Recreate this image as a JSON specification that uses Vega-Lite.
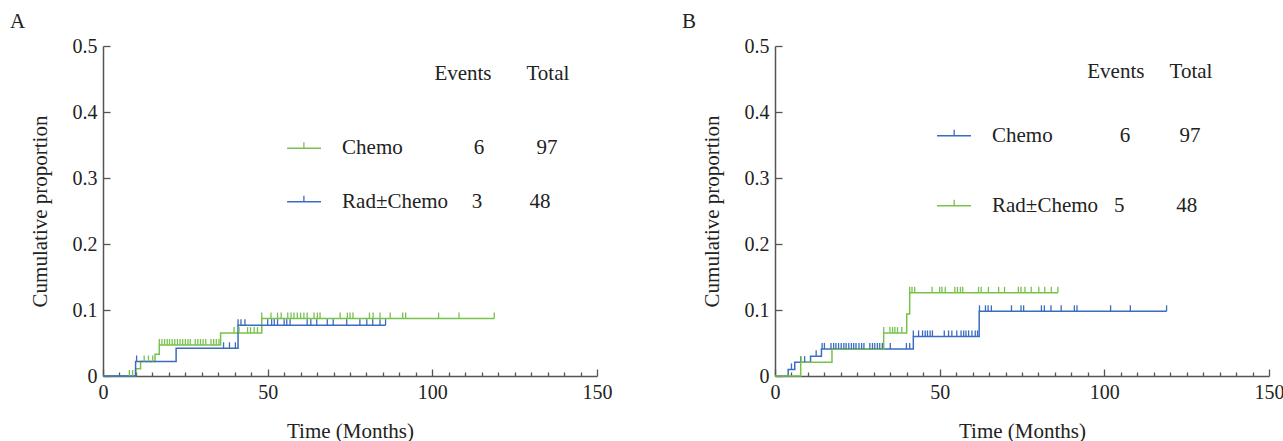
{
  "$schema": "https://vega.github.io/schema/vega-lite/v6.json",
  "background": "white",
  "padding": {"left": 10, "top": 11, "right": 5, "bottom": 0},
  "spacing": 70,
  "datasets": {
    "curves": [
      {"panel": "A", "group": "Chemo", "t": 0, "p": 0},
      {"panel": "A", "group": "Chemo", "t": 9.9, "p": 0.011},
      {"panel": "A", "group": "Chemo", "t": 11.4, "p": 0.022},
      {"panel": "A", "group": "Chemo", "t": 15.8, "p": 0.033},
      {"panel": "A", "group": "Chemo", "t": 17.1, "p": 0.047},
      {"panel": "A", "group": "Chemo", "t": 35.7, "p": 0.065},
      {"panel": "A", "group": "Chemo", "t": 48.2, "p": 0.087},
      {"panel": "A", "group": "Chemo", "t": 118.8, "p": 0.087},
      {"panel": "A", "group": "Rad±Chemo", "t": 0, "p": 0},
      {"panel": "A", "group": "Rad±Chemo", "t": 9.9, "p": 0.022},
      {"panel": "A", "group": "Rad±Chemo", "t": 22.2, "p": 0.042},
      {"panel": "A", "group": "Rad±Chemo", "t": 41.0, "p": 0.077},
      {"panel": "A", "group": "Rad±Chemo", "t": 85.8, "p": 0.077},
      {"panel": "B", "group": "Chemo", "t": 0, "p": 0},
      {"panel": "B", "group": "Chemo", "t": 4.0, "p": 0.010},
      {"panel": "B", "group": "Chemo", "t": 6.0, "p": 0.021},
      {"panel": "B", "group": "Chemo", "t": 10.8, "p": 0.030},
      {"panel": "B", "group": "Chemo", "t": 14.1, "p": 0.041},
      {"panel": "B", "group": "Chemo", "t": 42.0, "p": 0.060},
      {"panel": "B", "group": "Chemo", "t": 62.0, "p": 0.098},
      {"panel": "B", "group": "Chemo", "t": 118.9, "p": 0.098},
      {"panel": "B", "group": "Rad±Chemo", "t": 0, "p": 0},
      {"panel": "B", "group": "Rad±Chemo", "t": 7.8, "p": 0.021},
      {"panel": "B", "group": "Rad±Chemo", "t": 17.3, "p": 0.041},
      {"panel": "B", "group": "Rad±Chemo", "t": 33.0, "p": 0.065},
      {"panel": "B", "group": "Rad±Chemo", "t": 40.0, "p": 0.094},
      {"panel": "B", "group": "Rad±Chemo", "t": 40.9, "p": 0.126},
      {"panel": "B", "group": "Rad±Chemo", "t": 85.9, "p": 0.126}
    ],
    "censors": [
      {"panel": "A", "group": "Chemo", "t": 8.0, "p": 0},
      {"panel": "A", "group": "Chemo", "t": 9.0, "p": 0},
      {"panel": "A", "group": "Chemo", "t": 12.5, "p": 0.022},
      {"panel": "A", "group": "Chemo", "t": 13.8, "p": 0.022},
      {"panel": "A", "group": "Chemo", "t": 15.1, "p": 0.022},
      {"panel": "A", "group": "Chemo", "t": 17.1, "p": 0.047},
      {"panel": "A", "group": "Chemo", "t": 17.9, "p": 0.047},
      {"panel": "A", "group": "Chemo", "t": 18.7, "p": 0.047},
      {"panel": "A", "group": "Chemo", "t": 19.5, "p": 0.047},
      {"panel": "A", "group": "Chemo", "t": 20.2, "p": 0.047},
      {"panel": "A", "group": "Chemo", "t": 21.0, "p": 0.047},
      {"panel": "A", "group": "Chemo", "t": 21.8, "p": 0.047},
      {"panel": "A", "group": "Chemo", "t": 22.6, "p": 0.047},
      {"panel": "A", "group": "Chemo", "t": 23.4, "p": 0.047},
      {"panel": "A", "group": "Chemo", "t": 24.2, "p": 0.047},
      {"panel": "A", "group": "Chemo", "t": 25.0, "p": 0.047},
      {"panel": "A", "group": "Chemo", "t": 25.8, "p": 0.047},
      {"panel": "A", "group": "Chemo", "t": 26.5, "p": 0.047},
      {"panel": "A", "group": "Chemo", "t": 28.0, "p": 0.047},
      {"panel": "A", "group": "Chemo", "t": 28.8, "p": 0.047},
      {"panel": "A", "group": "Chemo", "t": 29.6, "p": 0.047},
      {"panel": "A", "group": "Chemo", "t": 30.4, "p": 0.047},
      {"panel": "A", "group": "Chemo", "t": 31.2, "p": 0.047},
      {"panel": "A", "group": "Chemo", "t": 32.8, "p": 0.047},
      {"panel": "A", "group": "Chemo", "t": 33.6, "p": 0.047},
      {"panel": "A", "group": "Chemo", "t": 34.4, "p": 0.047},
      {"panel": "A", "group": "Chemo", "t": 35.2, "p": 0.047},
      {"panel": "A", "group": "Chemo", "t": 39.8, "p": 0.065},
      {"panel": "A", "group": "Chemo", "t": 41.3, "p": 0.065},
      {"panel": "A", "group": "Chemo", "t": 43.9, "p": 0.065},
      {"panel": "A", "group": "Chemo", "t": 44.8, "p": 0.065},
      {"panel": "A", "group": "Chemo", "t": 45.9, "p": 0.065},
      {"panel": "A", "group": "Chemo", "t": 46.9, "p": 0.065},
      {"panel": "A", "group": "Chemo", "t": 48.2, "p": 0.087},
      {"panel": "A", "group": "Chemo", "t": 51.0, "p": 0.087},
      {"panel": "A", "group": "Chemo", "t": 53.0, "p": 0.087},
      {"panel": "A", "group": "Chemo", "t": 54.1, "p": 0.087},
      {"panel": "A", "group": "Chemo", "t": 56.1, "p": 0.087},
      {"panel": "A", "group": "Chemo", "t": 57.1, "p": 0.087},
      {"panel": "A", "group": "Chemo", "t": 58.0, "p": 0.087},
      {"panel": "A", "group": "Chemo", "t": 59.0, "p": 0.087},
      {"panel": "A", "group": "Chemo", "t": 60.0, "p": 0.087},
      {"panel": "A", "group": "Chemo", "t": 61.0, "p": 0.087},
      {"panel": "A", "group": "Chemo", "t": 62.0, "p": 0.087},
      {"panel": "A", "group": "Chemo", "t": 64.1, "p": 0.087},
      {"panel": "A", "group": "Chemo", "t": 65.1, "p": 0.087},
      {"panel": "A", "group": "Chemo", "t": 65.9, "p": 0.087},
      {"panel": "A", "group": "Chemo", "t": 72.0, "p": 0.087},
      {"panel": "A", "group": "Chemo", "t": 74.2, "p": 0.087},
      {"panel": "A", "group": "Chemo", "t": 75.0, "p": 0.087},
      {"panel": "A", "group": "Chemo", "t": 75.9, "p": 0.087},
      {"panel": "A", "group": "Chemo", "t": 80.9, "p": 0.087},
      {"panel": "A", "group": "Chemo", "t": 82.0, "p": 0.087},
      {"panel": "A", "group": "Chemo", "t": 84.1, "p": 0.087},
      {"panel": "A", "group": "Chemo", "t": 87.2, "p": 0.087},
      {"panel": "A", "group": "Chemo", "t": 91.0, "p": 0.087},
      {"panel": "A", "group": "Chemo", "t": 91.9, "p": 0.087},
      {"panel": "A", "group": "Chemo", "t": 101.9, "p": 0.087},
      {"panel": "A", "group": "Chemo", "t": 108.1, "p": 0.087},
      {"panel": "A", "group": "Chemo", "t": 118.8, "p": 0.087},
      {"panel": "A", "group": "Rad±Chemo", "t": 10.2, "p": 0.022},
      {"panel": "A", "group": "Rad±Chemo", "t": 36.6, "p": 0.042},
      {"panel": "A", "group": "Rad±Chemo", "t": 38.4, "p": 0.042},
      {"panel": "A", "group": "Rad±Chemo", "t": 40.2, "p": 0.042},
      {"panel": "A", "group": "Rad±Chemo", "t": 41.0, "p": 0.077},
      {"panel": "A", "group": "Rad±Chemo", "t": 41.9, "p": 0.077},
      {"panel": "A", "group": "Rad±Chemo", "t": 43.1, "p": 0.077},
      {"panel": "A", "group": "Rad±Chemo", "t": 50.0, "p": 0.077},
      {"panel": "A", "group": "Rad±Chemo", "t": 51.2, "p": 0.077},
      {"panel": "A", "group": "Rad±Chemo", "t": 52.0, "p": 0.077},
      {"panel": "A", "group": "Rad±Chemo", "t": 53.0, "p": 0.077},
      {"panel": "A", "group": "Rad±Chemo", "t": 55.0, "p": 0.077},
      {"panel": "A", "group": "Rad±Chemo", "t": 55.8, "p": 0.077},
      {"panel": "A", "group": "Rad±Chemo", "t": 56.8, "p": 0.077},
      {"panel": "A", "group": "Rad±Chemo", "t": 62.0, "p": 0.077},
      {"panel": "A", "group": "Rad±Chemo", "t": 63.1, "p": 0.077},
      {"panel": "A", "group": "Rad±Chemo", "t": 64.9, "p": 0.077},
      {"panel": "A", "group": "Rad±Chemo", "t": 68.1, "p": 0.077},
      {"panel": "A", "group": "Rad±Chemo", "t": 69.9, "p": 0.077},
      {"panel": "A", "group": "Rad±Chemo", "t": 74.0, "p": 0.077},
      {"panel": "A", "group": "Rad±Chemo", "t": 78.0, "p": 0.077},
      {"panel": "A", "group": "Rad±Chemo", "t": 80.1, "p": 0.077},
      {"panel": "A", "group": "Rad±Chemo", "t": 81.9, "p": 0.077},
      {"panel": "A", "group": "Rad±Chemo", "t": 84.1, "p": 0.077},
      {"panel": "A", "group": "Rad±Chemo", "t": 85.8, "p": 0.077},
      {"panel": "B", "group": "Chemo", "t": 5.0, "p": 0.010},
      {"panel": "B", "group": "Chemo", "t": 7.8, "p": 0.021},
      {"panel": "B", "group": "Chemo", "t": 9.0, "p": 0.021},
      {"panel": "B", "group": "Chemo", "t": 12.5, "p": 0.030},
      {"panel": "B", "group": "Chemo", "t": 14.3, "p": 0.041},
      {"panel": "B", "group": "Chemo", "t": 15.0, "p": 0.041},
      {"panel": "B", "group": "Chemo", "t": 17.0, "p": 0.041},
      {"panel": "B", "group": "Chemo", "t": 17.8, "p": 0.041},
      {"panel": "B", "group": "Chemo", "t": 18.5, "p": 0.041},
      {"panel": "B", "group": "Chemo", "t": 19.3, "p": 0.041},
      {"panel": "B", "group": "Chemo", "t": 20.1, "p": 0.041},
      {"panel": "B", "group": "Chemo", "t": 20.9, "p": 0.041},
      {"panel": "B", "group": "Chemo", "t": 21.6, "p": 0.041},
      {"panel": "B", "group": "Chemo", "t": 22.4, "p": 0.041},
      {"panel": "B", "group": "Chemo", "t": 23.2, "p": 0.041},
      {"panel": "B", "group": "Chemo", "t": 23.9, "p": 0.041},
      {"panel": "B", "group": "Chemo", "t": 24.6, "p": 0.041},
      {"panel": "B", "group": "Chemo", "t": 25.5, "p": 0.041},
      {"panel": "B", "group": "Chemo", "t": 26.3, "p": 0.041},
      {"panel": "B", "group": "Chemo", "t": 27.0, "p": 0.041},
      {"panel": "B", "group": "Chemo", "t": 28.8, "p": 0.041},
      {"panel": "B", "group": "Chemo", "t": 29.6, "p": 0.041},
      {"panel": "B", "group": "Chemo", "t": 30.3, "p": 0.041},
      {"panel": "B", "group": "Chemo", "t": 31.1, "p": 0.041},
      {"panel": "B", "group": "Chemo", "t": 31.8, "p": 0.041},
      {"panel": "B", "group": "Chemo", "t": 32.6, "p": 0.041},
      {"panel": "B", "group": "Chemo", "t": 35.0, "p": 0.041},
      {"panel": "B", "group": "Chemo", "t": 39.9, "p": 0.041},
      {"panel": "B", "group": "Chemo", "t": 40.9, "p": 0.041},
      {"panel": "B", "group": "Chemo", "t": 42.0, "p": 0.060},
      {"panel": "B", "group": "Chemo", "t": 43.6, "p": 0.060},
      {"panel": "B", "group": "Chemo", "t": 44.8, "p": 0.060},
      {"panel": "B", "group": "Chemo", "t": 45.6, "p": 0.060},
      {"panel": "B", "group": "Chemo", "t": 46.3, "p": 0.060},
      {"panel": "B", "group": "Chemo", "t": 47.1, "p": 0.060},
      {"panel": "B", "group": "Chemo", "t": 47.8, "p": 0.060},
      {"panel": "B", "group": "Chemo", "t": 51.4, "p": 0.060},
      {"panel": "B", "group": "Chemo", "t": 52.7, "p": 0.060},
      {"panel": "B", "group": "Chemo", "t": 53.7, "p": 0.060},
      {"panel": "B", "group": "Chemo", "t": 55.2, "p": 0.060},
      {"panel": "B", "group": "Chemo", "t": 56.5, "p": 0.060},
      {"panel": "B", "group": "Chemo", "t": 57.3, "p": 0.060},
      {"panel": "B", "group": "Chemo", "t": 58.0, "p": 0.060},
      {"panel": "B", "group": "Chemo", "t": 58.8, "p": 0.060},
      {"panel": "B", "group": "Chemo", "t": 59.8, "p": 0.060},
      {"panel": "B", "group": "Chemo", "t": 60.8, "p": 0.060},
      {"panel": "B", "group": "Chemo", "t": 61.5, "p": 0.060},
      {"panel": "B", "group": "Chemo", "t": 62.1, "p": 0.098},
      {"panel": "B", "group": "Chemo", "t": 63.9, "p": 0.098},
      {"panel": "B", "group": "Chemo", "t": 64.7, "p": 0.098},
      {"panel": "B", "group": "Chemo", "t": 65.7, "p": 0.098},
      {"panel": "B", "group": "Chemo", "t": 71.8, "p": 0.098},
      {"panel": "B", "group": "Chemo", "t": 74.7, "p": 0.098},
      {"panel": "B", "group": "Chemo", "t": 75.5, "p": 0.098},
      {"panel": "B", "group": "Chemo", "t": 80.9, "p": 0.098},
      {"panel": "B", "group": "Chemo", "t": 81.8, "p": 0.098},
      {"panel": "B", "group": "Chemo", "t": 83.8, "p": 0.098},
      {"panel": "B", "group": "Chemo", "t": 86.9, "p": 0.098},
      {"panel": "B", "group": "Chemo", "t": 90.9, "p": 0.098},
      {"panel": "B", "group": "Chemo", "t": 91.7, "p": 0.098},
      {"panel": "B", "group": "Chemo", "t": 101.9, "p": 0.098},
      {"panel": "B", "group": "Chemo", "t": 107.9, "p": 0.098},
      {"panel": "B", "group": "Chemo", "t": 118.9, "p": 0.098},
      {"panel": "B", "group": "Rad±Chemo", "t": 7.9, "p": 0.021},
      {"panel": "B", "group": "Rad±Chemo", "t": 33.0, "p": 0.065},
      {"panel": "B", "group": "Rad±Chemo", "t": 34.9, "p": 0.065},
      {"panel": "B", "group": "Rad±Chemo", "t": 35.7, "p": 0.065},
      {"panel": "B", "group": "Rad±Chemo", "t": 36.4, "p": 0.065},
      {"panel": "B", "group": "Rad±Chemo", "t": 37.2, "p": 0.065},
      {"panel": "B", "group": "Rad±Chemo", "t": 38.5, "p": 0.065},
      {"panel": "B", "group": "Rad±Chemo", "t": 40.9, "p": 0.126},
      {"panel": "B", "group": "Rad±Chemo", "t": 41.6, "p": 0.126},
      {"panel": "B", "group": "Rad±Chemo", "t": 42.4, "p": 0.126},
      {"panel": "B", "group": "Rad±Chemo", "t": 47.7, "p": 0.126},
      {"panel": "B", "group": "Rad±Chemo", "t": 50.0, "p": 0.126},
      {"panel": "B", "group": "Rad±Chemo", "t": 50.7, "p": 0.126},
      {"panel": "B", "group": "Rad±Chemo", "t": 51.7, "p": 0.126},
      {"panel": "B", "group": "Rad±Chemo", "t": 54.6, "p": 0.126},
      {"panel": "B", "group": "Rad±Chemo", "t": 55.4, "p": 0.126},
      {"panel": "B", "group": "Rad±Chemo", "t": 56.3, "p": 0.126},
      {"panel": "B", "group": "Rad±Chemo", "t": 57.0, "p": 0.126},
      {"panel": "B", "group": "Rad±Chemo", "t": 61.8, "p": 0.126},
      {"panel": "B", "group": "Rad±Chemo", "t": 62.6, "p": 0.126},
      {"panel": "B", "group": "Rad±Chemo", "t": 64.8, "p": 0.126},
      {"panel": "B", "group": "Rad±Chemo", "t": 67.9, "p": 0.126},
      {"panel": "B", "group": "Rad±Chemo", "t": 69.7, "p": 0.126},
      {"panel": "B", "group": "Rad±Chemo", "t": 73.9, "p": 0.126},
      {"panel": "B", "group": "Rad±Chemo", "t": 74.7, "p": 0.126},
      {"panel": "B", "group": "Rad±Chemo", "t": 75.9, "p": 0.126},
      {"panel": "B", "group": "Rad±Chemo", "t": 77.8, "p": 0.126},
      {"panel": "B", "group": "Rad±Chemo", "t": 80.1, "p": 0.126},
      {"panel": "B", "group": "Rad±Chemo", "t": 81.9, "p": 0.126},
      {"panel": "B", "group": "Rad±Chemo", "t": 83.9, "p": 0.126},
      {"panel": "B", "group": "Rad±Chemo", "t": 85.9, "p": 0.126}
    ],
    "keys": [
      {"panel": "A", "group": "Chemo", "t1": 55.9, "t2": 66.2, "tm": 61.0, "p": 0.345, "tl": 72.6, "events": "6", "te": 114.2, "total": "97", "tt": 134.8},
      {"panel": "A", "group": "Rad±Chemo", "t1": 55.9, "t2": 66.2, "tm": 61.0, "p": 0.264, "tl": 72.6, "events": "3", "te": 113.6, "total": "48", "tt": 132.7},
      {"panel": "B", "group": "Chemo", "t1": 49.2, "t2": 59.5, "tm": 54.4, "p": 0.364, "tl": 65.9, "events": "6", "te": 106.3, "total": "97", "tt": 126.0},
      {"panel": "B", "group": "Rad±Chemo", "t1": 49.2, "t2": 59.5, "tm": 54.4, "p": 0.258, "tl": 65.9, "events": "5", "te": 104.5, "total": "48", "tt": 125.0}
    ],
    "headers": [
      {"panel": "A", "text": "Events", "t": 109.3, "p": 0.458},
      {"panel": "A", "text": "Total", "t": 135.1, "p": 0.458},
      {"panel": "B", "text": "Events", "t": 103.5, "p": 0.461},
      {"panel": "B", "text": "Total", "t": 126.3, "p": 0.461}
    ]
  },
  "hconcat": [
    {
      "width": 494,
      "height": 330,
      "title": {"text": "A", "dx": -19},
      "resolve": {"axis": {"x": "independent"}},
      "layer": [
        {
          "data": {"name": "curves"},
          "transform": [{"filter": "datum.panel === 'A'"}],
          "mark": {"type": "line", "interpolate": "step-after", "strokeWidth": 1.5},
          "encoding": {
            "x": {"field": "t", "type": "quantitative", "scale": {"domain": [0, 150], "nice": false},
              "axis": {"orient": "bottom", "title": "Time (Months)", "values": [0, 50, 100, 150], "tickSize": -7, "labelOverlap": false}},
            "y": {"field": "p", "type": "quantitative", "scale": {"domain": [0, 0.5], "nice": false},
              "axis": {"title": "Cumulative proportion", "values": [0, 0.1, 0.2, 0.3, 0.4, 0.5], "format": "~g", "tickSize": -7}},
            "color": {"field": "group", "type": "nominal", "scale": {"domain": ["Chemo", "Rad±Chemo"], "range": ["#78c24a", "#3a6cc0"]}, "legend": null}
          }
        },
        {
          "data": {"name": "censors"},
          "transform": [{"filter": "datum.panel === 'A'"}],
          "mark": {"type": "point", "shape": "M0,0L0,-2", "size": 36, "filled": false, "strokeWidth": 1.3, "opacity": 1},
          "encoding": {
            "x": {"field": "t", "type": "quantitative",
              "axis": {"orient": "bottom", "title": null, "labels": false, "domain": false, "tickSize": -4,
                "values": [5,10,15,20,25,30,35,40,45,55,60,65,70,75,80,85,90,95,105,110,115,120,125,130,135,140,145]}},
            "y": {"field": "p", "type": "quantitative"},
            "color": {"field": "group", "type": "nominal"}
          }
        },
        {
          "data": {"name": "keys"},
          "transform": [{"filter": "datum.panel === 'A'"}],
          "mark": {"type": "rule", "strokeWidth": 1.5},
          "encoding": {
            "x": {"field": "t1", "type": "quantitative", "axis": null},
            "x2": {"field": "t2"},
            "y": {"field": "p", "type": "quantitative"},
            "color": {"field": "group", "type": "nominal"}
          }
        },
        {
          "data": {"name": "keys"},
          "transform": [{"filter": "datum.panel === 'A'"}],
          "mark": {"type": "point", "shape": "M0,0L0,-2", "size": 36, "filled": false, "strokeWidth": 1.3, "opacity": 1},
          "encoding": {
            "x": {"field": "tm", "type": "quantitative", "axis": null},
            "y": {"field": "p", "type": "quantitative"},
            "color": {"field": "group", "type": "nominal"}
          }
        },
        {
          "data": {"name": "keys"},
          "transform": [{"filter": "datum.panel === 'A'"}],
          "mark": {"type": "text", "align": "left", "baseline": "middle"},
          "encoding": {
            "x": {"field": "tl", "type": "quantitative", "axis": null},
            "y": {"field": "p", "type": "quantitative"},
            "text": {"field": "group"}
          }
        },
        {
          "data": {"name": "keys"},
          "transform": [{"filter": "datum.panel === 'A'"}],
          "mark": {"type": "text", "align": "center", "baseline": "middle"},
          "encoding": {
            "x": {"field": "te", "type": "quantitative", "axis": null},
            "y": {"field": "p", "type": "quantitative"},
            "text": {"field": "events"}
          }
        },
        {
          "data": {"name": "keys"},
          "transform": [{"filter": "datum.panel === 'A'"}],
          "mark": {"type": "text", "align": "center", "baseline": "middle"},
          "encoding": {
            "x": {"field": "tt", "type": "quantitative", "axis": null},
            "y": {"field": "p", "type": "quantitative"},
            "text": {"field": "total"}
          }
        },
        {
          "data": {"name": "headers"},
          "transform": [{"filter": "datum.panel === 'A'"}],
          "mark": {"type": "text", "align": "center", "baseline": "middle"},
          "encoding": {
            "x": {"field": "t", "type": "quantitative", "axis": null},
            "y": {"field": "p", "type": "quantitative"},
            "text": {"field": "text"}
          }
        }
      ]
    },
    {
      "width": 494,
      "height": 330,
      "title": {"text": "B", "dx": -19},
      "resolve": {"axis": {"x": "independent"}},
      "layer": [
        {
          "data": {"name": "curves"},
          "transform": [{"filter": "datum.panel === 'B'"}],
          "mark": {"type": "line", "interpolate": "step-after", "strokeWidth": 1.5},
          "encoding": {
            "x": {"field": "t", "type": "quantitative", "scale": {"domain": [0, 150], "nice": false},
              "axis": {"orient": "bottom", "title": "Time (Months)", "values": [0, 50, 100, 150], "tickSize": -7, "labelOverlap": false}},
            "y": {"field": "p", "type": "quantitative", "scale": {"domain": [0, 0.5], "nice": false},
              "axis": {"title": "Cumulative proportion", "values": [0, 0.1, 0.2, 0.3, 0.4, 0.5], "format": "~g", "tickSize": -7}},
            "color": {"field": "group", "type": "nominal", "scale": {"domain": ["Chemo", "Rad±Chemo"], "range": ["#3a6cc0", "#78c24a"]}, "legend": null}
          }
        },
        {
          "data": {"name": "censors"},
          "transform": [{"filter": "datum.panel === 'B'"}],
          "mark": {"type": "point", "shape": "M0,0L0,-2", "size": 36, "filled": false, "strokeWidth": 1.3, "opacity": 1},
          "encoding": {
            "x": {"field": "t", "type": "quantitative",
              "axis": {"orient": "bottom", "title": null, "labels": false, "domain": false, "tickSize": -4,
                "values": [5,10,15,20,25,30,35,40,45,55,60,65,70,75,80,85,90,95,105,110,115,120,125,130,135,140,145]}},
            "y": {"field": "p", "type": "quantitative"},
            "color": {"field": "group", "type": "nominal"}
          }
        },
        {
          "data": {"name": "keys"},
          "transform": [{"filter": "datum.panel === 'B'"}],
          "mark": {"type": "rule", "strokeWidth": 1.5},
          "encoding": {
            "x": {"field": "t1", "type": "quantitative", "axis": null},
            "x2": {"field": "t2"},
            "y": {"field": "p", "type": "quantitative"},
            "color": {"field": "group", "type": "nominal"}
          }
        },
        {
          "data": {"name": "keys"},
          "transform": [{"filter": "datum.panel === 'B'"}],
          "mark": {"type": "point", "shape": "M0,0L0,-2", "size": 36, "filled": false, "strokeWidth": 1.3, "opacity": 1},
          "encoding": {
            "x": {"field": "tm", "type": "quantitative", "axis": null},
            "y": {"field": "p", "type": "quantitative"},
            "color": {"field": "group", "type": "nominal"}
          }
        },
        {
          "data": {"name": "keys"},
          "transform": [{"filter": "datum.panel === 'B'"}],
          "mark": {"type": "text", "align": "left", "baseline": "middle"},
          "encoding": {
            "x": {"field": "tl", "type": "quantitative", "axis": null},
            "y": {"field": "p", "type": "quantitative"},
            "text": {"field": "group"}
          }
        },
        {
          "data": {"name": "keys"},
          "transform": [{"filter": "datum.panel === 'B'"}],
          "mark": {"type": "text", "align": "center", "baseline": "middle"},
          "encoding": {
            "x": {"field": "te", "type": "quantitative", "axis": null},
            "y": {"field": "p", "type": "quantitative"},
            "text": {"field": "events"}
          }
        },
        {
          "data": {"name": "keys"},
          "transform": [{"filter": "datum.panel === 'B'"}],
          "mark": {"type": "text", "align": "center", "baseline": "middle"},
          "encoding": {
            "x": {"field": "tt", "type": "quantitative", "axis": null},
            "y": {"field": "p", "type": "quantitative"},
            "text": {"field": "total"}
          }
        },
        {
          "data": {"name": "headers"},
          "transform": [{"filter": "datum.panel === 'B'"}],
          "mark": {"type": "text", "align": "center", "baseline": "middle"},
          "encoding": {
            "x": {"field": "t", "type": "quantitative", "axis": null},
            "y": {"field": "p", "type": "quantitative"},
            "text": {"field": "text"}
          }
        }
      ]
    }
  ],
  "resolve": {"scale": {"color": "independent"}},
  "config": {
    "font": "Liberation Serif, Times New Roman, Times, serif",
    "view": {"stroke": null},
    "text": {"font": "Liberation Serif, Times New Roman, Times, serif", "fontSize": 21, "color": "#222222"},
    "title": {"font": "Liberation Serif, Times New Roman, Times, serif", "fontSize": 21, "fontWeight": "normal", "anchor": "start", "frame": "bounds", "color": "#222222", "offset": 4},
    "axis": {
      "grid": false,
      "labelFont": "Liberation Serif, Times New Roman, Times, serif",
      "labelFontSize": 20,
      "labelColor": "#222222",
      "labelFlush": false,
      "titleFont": "Liberation Serif, Times New Roman, Times, serif",
      "titleFontSize": 21,
      "titleFontWeight": "normal",
      "titleColor": "#222222",
      "domainColor": "#555555",
      "domainWidth": 1.5,
      "tickColor": "#555555",
      "tickWidth": 1.3
    },
    "axisX": {"labelPadding": 13, "titlePadding": 18},
    "axisY": {"labelPadding": 13, "titlePadding": 22}
  }
}
